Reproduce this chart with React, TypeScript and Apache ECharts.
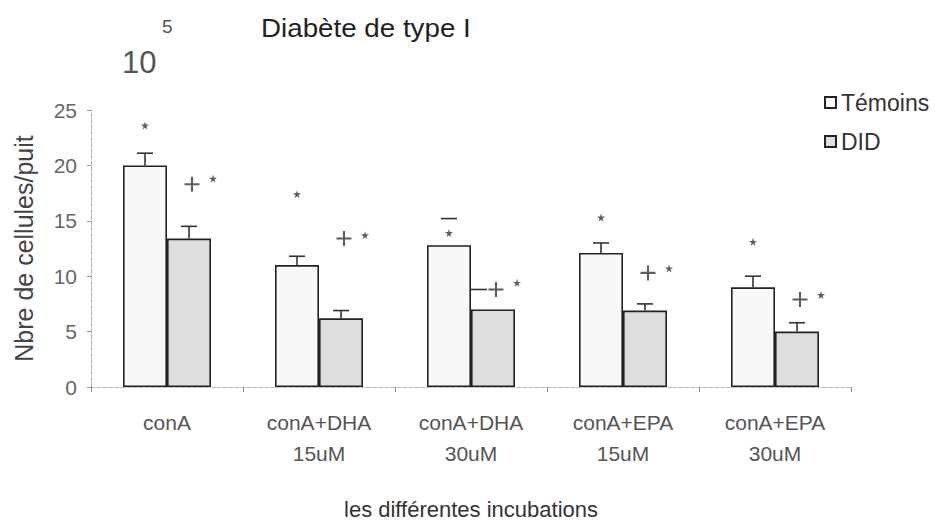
import React, { useEffect, useRef } from "react";
import * as echarts from "echarts";

const categories = ["conA", "conA+DHA\n15uM", "conA+DHA\n30uM", "conA+EPA\n15uM", "conA+EPA\n30uM"];
const seriesNames = ["Témoins", "DID"];
const temoins = [20.0, 11.0, 12.8, 12.1, 9.0];
const did = [13.4, 6.2, 7.0, 6.9, 5.0];
const temoinsErrTop = [21.1, 11.8, 15.2, 13.0, 10.0];
const didErrTop = [14.5, 6.9, 8.8, 7.5, 5.8];
const temoinsErrStem = [true, true, false, true, true];
const didErrStem = [true, true, false, true, true];
const temoinsStar = [23.6, 17.4, 13.9, 15.3, 13.1];
const didPlus = [18.3, 13.4, 8.8, 10.3, 7.9];
const didStar = [18.8, 13.7, 9.4, 10.7, 8.3];
const yMin = 0;
const yMax = 25;
const yStep = 5;

const FONT = "'Liberation Sans', Arial, sans-serif";
const STAR = "path://M50,0 L61,35 L98,35 L68,57 L79,91 L50,70 L21,91 L32,57 L2,35 L39,35 Z";
const PLUS = "path://M4.3,0H5.7V4.3H10V5.7H5.7V10H4.3V5.7H0V4.3H4.3Z";
const BAR_W = 44;

function errSeries(values: number[], tops: number[], stems: boolean[], offset: number, looseCapShift: number) {
  return {
    type: "custom",
    silent: true,
    z: 5,
    renderItem: (params: any, api: any) => {
      const x = api.value(0);
      const lo = api.coord([x, api.value(1)]);
      const hi = api.coord([x, api.value(2)]);
      const stem = api.value(3);
      const cx = lo[0] + offset;
      const capX = stem ? cx : cx + looseCapShift;
      const children: any[] = [
        { type: "line", shape: { x1: capX - 8, y1: hi[1], x2: capX + 8, y2: hi[1] }, style: { stroke: "#333", lineWidth: 1.6 } },
      ];
      if (stem) {
        children.push({ type: "line", shape: { x1: cx, y1: lo[1], x2: cx, y2: hi[1] }, style: { stroke: "#333", lineWidth: 1.6 } });
      }
      return { type: "group", children };
    },
    data: values.map((v, i) => [i, v, tops[i], stems[i] ? 1 : 0]),
  };
}

function markSeries(values: number[], symbol: string, size: number, offset: number) {
  return {
    type: "scatter",
    silent: true,
    z: 6,
    symbol,
    symbolSize: size,
    symbolOffset: [offset, 0],
    itemStyle: { color: "#333" },
    data: values.map((v, i) => [i, v]),
  };
}

export default function App() {
  const ref = useRef<HTMLDivElement>(null);
  useEffect(() => {
    if (!ref.current) return;
    const chart = echarts.init(ref.current, null, { renderer: "svg" });
    chart.setOption({
      animation: false,
      backgroundColor: "#ffffff",
      textStyle: { fontFamily: FONT },
      grid: { left: 91, right: 86, top: 110, bottom: 137, containLabel: false, outerBoundsMode: "none" },
      legend: {
        orient: "vertical",
        left: 819,
        top: 86,
        itemWidth: 11,
        itemHeight: 11,
        itemGap: 16,
        itemTextGap: 6,
        icon: "rect",
        data: seriesNames,
        textStyle: { fontSize: 23, color: "#333", fontFamily: FONT },
      },
      graphic: [
        {
          type: "text",
          x: 261,
          y: 28,
          scaleX: 1.11,
          style: { text: "Diabète de type I", fontSize: 25, fill: "#222", fontFamily: FONT, verticalAlign: "middle", align: "left" },
        },
        { type: "text", x: 162, y: 26, style: { text: "5", fontSize: 19, fill: "#555", fontFamily: FONT, verticalAlign: "middle" } },
        { type: "text", x: 122, y: 62, style: { text: "10", fontSize: 31, fill: "#555", fontFamily: FONT, verticalAlign: "middle" } },
      ],
      xAxis: {
        type: "category",
        data: categories,
        name: "les différentes incubations",
        nameLocation: "middle",
        nameGap: 111,
        nameTextStyle: { fontSize: 22, color: "#333", fontFamily: FONT },
        axisLine: { show: true, lineStyle: { color: "#bbb", type: "dashed", width: 1 } },
        axisTick: { show: true, alignWithLabel: false, length: 5, lineStyle: { color: "#888" } },
        axisLabel: { color: "#555", fontSize: 21, lineHeight: 31, margin: 20, fontFamily: FONT },
      },
      yAxis: {
        type: "value",
        min: yMin,
        max: yMax,
        interval: yStep,
        name: "Nbre de cellules/puit",
        nameLocation: "middle",
        nameGap: 55,
        nameRotate: 90,
        nameTextStyle: { fontSize: 25, color: "#444", fontFamily: FONT },
        axisLine: { show: true, lineStyle: { color: "#aaa", type: "dashed", width: 1 } },
        axisTick: { show: true, length: 4, lineStyle: { color: "#999" } },
        splitLine: { show: false },
        axisLabel: { color: "#666", fontSize: 21, margin: 14, fontFamily: FONT },
      },
      series: [
        {
          name: seriesNames[0],
          type: "bar",
          barWidth: BAR_W,
          barGap: "0%",
          itemStyle: { color: "#f8f8f8", borderColor: "#222", borderWidth: 1.6 },
          data: temoins,
          z: 3,
        },
        {
          name: seriesNames[1],
          type: "bar",
          barWidth: BAR_W,
          barGap: "0%",
          itemStyle: { color: "#dedede", borderColor: "#222", borderWidth: 1.6 },
          data: did,
          z: 3,
        },
        errSeries(temoins, temoinsErrTop, temoinsErrStem, -BAR_W / 2, 0),
        errSeries(did, didErrTop, didErrStem, BAR_W / 2, -14),
        markSeries(temoinsStar, STAR, 8, -BAR_W / 2),
        markSeries(didPlus, PLUS, 15, BAR_W / 2 + 3),
        markSeries(didStar, STAR, 8, BAR_W + 2),
      ],
    });
    return () => chart.dispose();
  }, []);
  return <div ref={ref} style={{ position: "fixed", left: 0, top: 0, width: 937, height: 524 }} />;
}
